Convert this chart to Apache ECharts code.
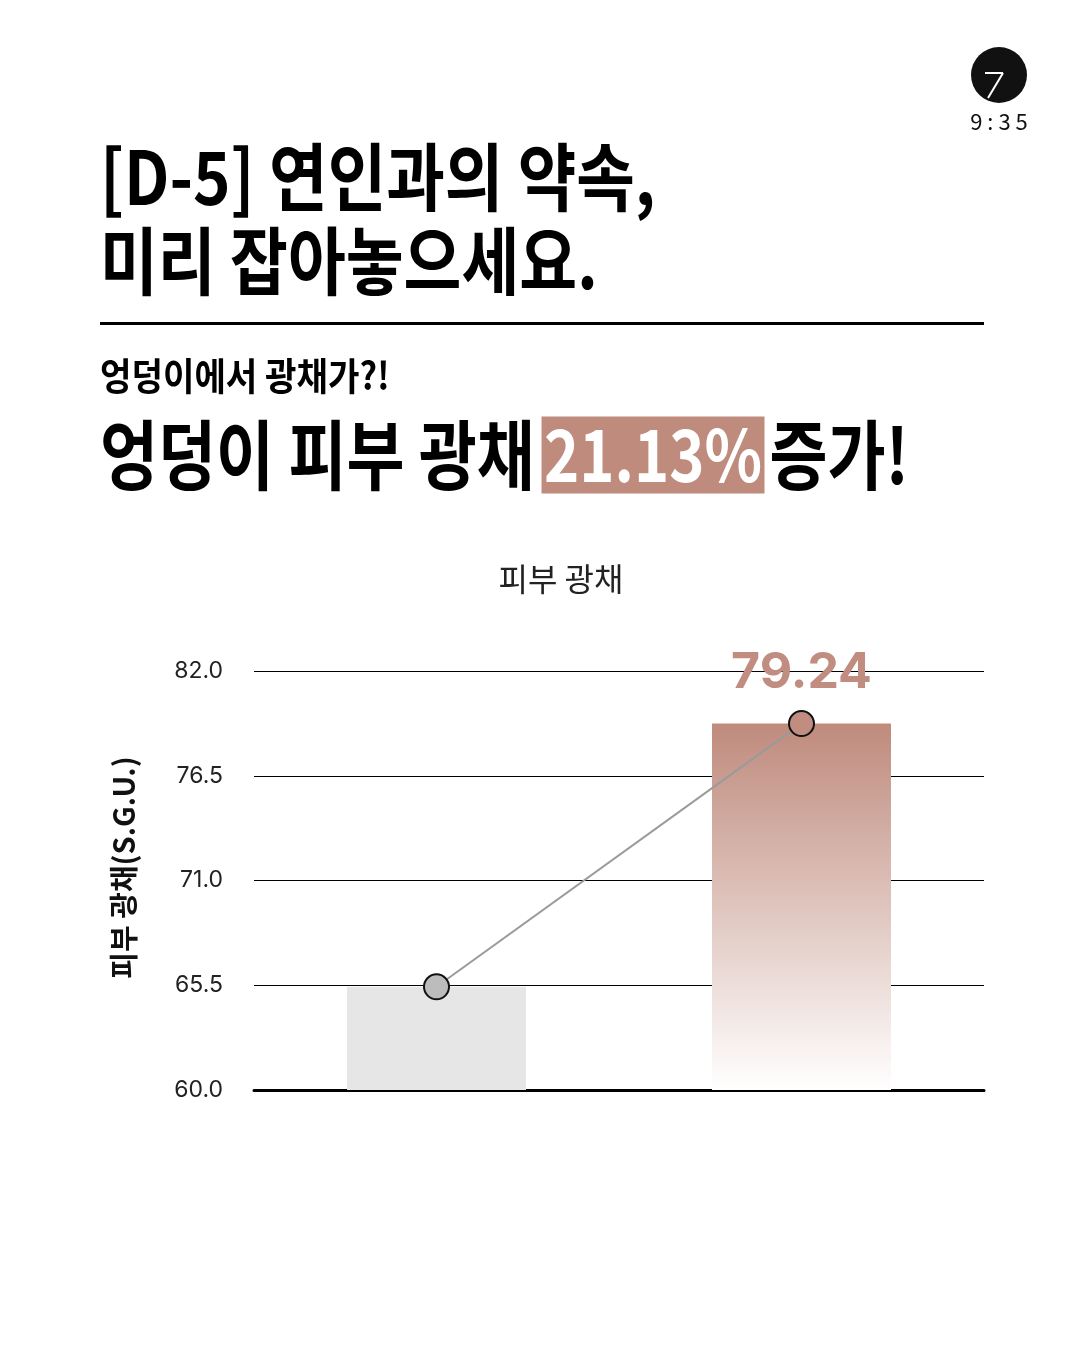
<!DOCTYPE html>
<html>
<head>
<meta charset="utf-8">
<script src="https://cdn.jsdelivr.net/npm/echarts@6/dist/echarts.min.js"></script>
<style>
  html, body { margin: 0; padding: 0; background: #fff; }
  #chart-container { width: 1080px; height: 1350px; }
</style>
</head>
<body>
<div id="chart-container"></div>
<script>
var dom = document.getElementById('chart-container');
var myChart = echarts.init(dom, null, { renderer: 'canvas' });

var FONT = '"Noto Sans CJK KR", "Noto Sans", sans-serif';
var NUM_FONT = 'Inter, "Noto Sans CJK KR", sans-serif';

// data
var categories = ['Before', 'After'];
var glowValues = [65.42, 79.24];
var yTicks = { min: 60, max: 82, interval: 5.5 };
var increaseText = '21.13%';

var barColors = [
  '#e6e6e6',
  new echarts.graphic.LinearGradient(0, 0, 0, 1, [
    { offset: 0, color: '#bf8b7d' },
    { offset: 1, color: '#ffffff' }
  ])
];
var dotColors = ['#bcbcbc', '#c08d80'];

var option = {
  backgroundColor: '#ffffff',
  animation: false,
  title: {
    text: '피부 광채',
    left: 556,
    top: 558,
    textAlign: 'center',
    textStyle: { fontFamily: FONT, fontSize: 32, fontWeight: 'normal', color: '#222' }
  },
  grid: { left: 254, right: 96, top: 671, bottom: 260, containLabel: false },
  xAxis: {
    type: 'category',
    data: categories,
    axisLine: { show: true, lineStyle: { color: '#000', width: 3 } },
    axisTick: { show: false },
    axisLabel: { show: false }
  },
  yAxis: {
    type: 'value',
    min: yTicks.min,
    max: yTicks.max,
    interval: yTicks.interval,
    name: '피부 광채(S.G.U.)',
    nameLocation: 'middle',
    nameRotate: 90,
    nameGap: 116,
    nameTextStyle: { fontFamily: FONT, fontSize: 29, fontWeight: 'bold', color: '#111', padding: [0, 0, 0, 26] },
    axisLine: { show: false },
    axisTick: { show: false },
    axisLabel: {
      margin: 31,
      fontFamily: NUM_FONT,
      fontSize: 23,
      color: '#222',
      formatter: function (v) { return v.toFixed(1); }
    },
    splitLine: { show: true, lineStyle: { color: '#000', width: 1 } }
  },
  series: [
    {
      type: 'bar',
      barWidth: 179,
      data: glowValues.map(function (v, i) {
        return {
          value: v,
          itemStyle: { color: barColors[i] },
          label: i === 1 ? {
            show: true,
            position: 'top',
            distance: 26,
            fontFamily: NUM_FONT,
            fontSize: 50,
            fontWeight: 'bold',
            color: '#c08d80',
            formatter: function (p) { return p.value.toFixed(2); }
          } : { show: false }
        };
      })
    },
    {
      type: 'line',
      data: glowValues.map(function (v, i) {
        return {
          value: v,
          itemStyle: { color: dotColors[i], borderColor: '#111', borderWidth: 2 }
        };
      }),
      symbol: 'circle',
      symbolSize: 25,
      lineStyle: { color: '#9a9a9a', width: 2 },
      z: 5
    }
  ],
  graphic: [
    // logo
    { type: 'circle', shape: { cx: 999, cy: 75, r: 28 }, style: { fill: '#111' } },
    { type: 'line', shape: { x1: 985, y1: 73, x2: 1003, y2: 73 }, style: { stroke: '#fff', lineWidth: 2 } },
    { type: 'line', shape: { x1: 1003, y1: 73, x2: 988, y2: 98 }, style: { stroke: '#fff', lineWidth: 2 } },
    { type: 'text', x: 999, y: 111, style: { text: '9 : 3 5', fontFamily: FONT, fontSize: 22, fill: '#111', align: 'center' } },
    // headline
    { type: 'text', x: 100, y: 140, scaleX: 0.86, style: { text: '[D-5] 연인과의 약속,', fontFamily: FONT, fontSize: 74, fontWeight: 'bold', fill: '#000' } },
    { type: 'text', x: 100, y: 224, scaleX: 0.85, style: { text: '미리 잡아놓으세요.', fontFamily: FONT, fontSize: 74, fontWeight: 'bold', fill: '#000' } },
    { type: 'rect', shape: { x: 100, y: 322, width: 884, height: 3 }, style: { fill: '#000' } },
    // sub headline
    { type: 'text', x: 100, y: 357, scaleX: 0.9, style: { text: '엉덩이에서 광채가?!', fontFamily: FONT, fontSize: 38, fontWeight: 'bold', fill: '#000' } },
    {
      type: 'text', x: 100, y: 416, scaleX: 0.83,
      style: {
        text: '{a|엉덩이 피부 광채}{s| }{b|' + increaseText + '}{t| }{a|증가!}',
        fontFamily: FONT,
        rich: {
          a: { fontFamily: FONT, fontSize: 76, fontWeight: 'bold', fill: '#000', height: 78 },
          s: { fontFamily: FONT, fontSize: 76, width: 8, height: 78 },
          t: { fontFamily: FONT, fontSize: 76, width: 6, height: 78 },
          b: { fontFamily: FONT, fontSize: 72, fontWeight: 'bold', fill: '#fff', backgroundColor: '#bf8b7d', padding: [1, 3, 1, 3], height: 75 }
        }
      }
    }
  ]
};

myChart.setOption(option);
window.addEventListener('resize', myChart.resize);
</script>
</body>
</html>
